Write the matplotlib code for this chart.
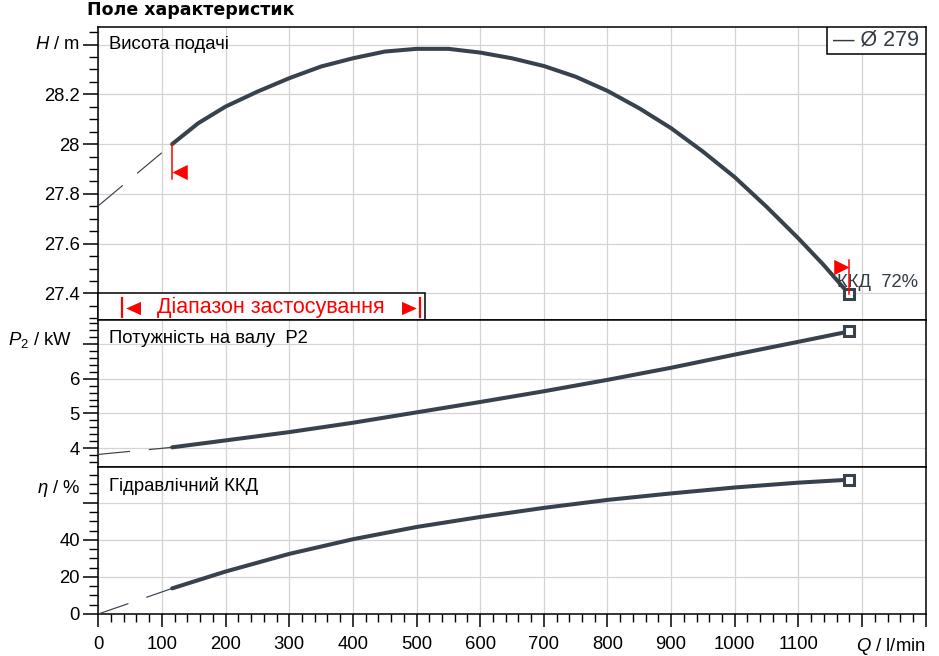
import numpy as np
import matplotlib
matplotlib.use('Agg')
import matplotlib.pyplot as plt
from matplotlib.path import Path
from matplotlib.patches import Rectangle
from matplotlib.ticker import FixedLocator, MultipleLocator
import matplotlib.transforms as mtransforms

# ---------------- data ----------------
q_head = [116, 157, 200, 250, 300, 350, 400, 450, 500, 550, 600, 650, 700, 750, 800,
          850, 900, 950, 1000, 1050, 1100, 1139, 1180]
head = [28.0, 28.084, 28.151, 28.211, 28.265, 28.312, 28.345, 28.372, 28.383, 28.383,
        28.368, 28.345, 28.314, 28.271, 28.214, 28.144, 28.064, 27.970, 27.867, 27.748,
        27.621, 27.516, 27.396]
q_pe = [116, 200, 300, 400, 500, 600, 700, 800, 900, 1000, 1100, 1180]
power = [4.02, 4.22, 4.46, 4.73, 5.03, 5.33, 5.64, 5.97, 6.32, 6.70, 7.07, 7.37]
eff = [13.8, 22.9, 32.4, 40.3, 46.9, 52.3, 57.2, 61.5, 65.0, 68.2, 70.8, 72.4]
head_q0 = 27.752
power_q0 = 3.815
eff_q0 = 0.0
range_q = [38, 505]

x_ticks = [0, 100, 200, 300, 400, 500, 600, 700, 800, 900, 1000, 1100, 1200, 1300]
x_labels = ['0', '100', '200', '300', '400', '500', '600', '700', '800', '900', '1000', '1100', '', '']
h_ticks = [27.4, 27.6, 27.8, 28.0, 28.2, 28.4]
h_labels = ['27.4', '27.6', '27.8', '28', '28.2', '']
p_ticks = [4, 5, 6, 7]
p_labels = ['4', '5', '6', '']
e_ticks = [0, 20, 40, 60]
e_labels = ['0', '20', '40', '']

title = 'Поле характеристик'
panel_titles = ['Висота подачі', 'Потужність на валу  P2', 'Гідравлічний ККД']
band_text = 'Діапазон застосування'
legend_text = '— Ø 279'
eff_text = 'ККД  72%'

# ---------------- style ----------------
plt.rcParams['font.family'] = ['Liberation Sans', 'DejaVu Sans']
plt.rcParams['mathtext.fontset'] = 'custom'
plt.rcParams['mathtext.rm'] = 'Liberation Sans'
plt.rcParams['mathtext.it'] = 'Liberation Sans:italic'
plt.rcParams['mathtext.bf'] = 'Liberation Sans:bold'

CURVE = '#37424d'
GRID = '#d4d4d4'
FS = 13.3

W, H = 939, 656
fig = plt.figure(figsize=(W / 100, H / 100), dpi=100)

def fx(px):
    return px / W

def fy(py):
    return 1 - py / H

left, right = 98.3, 925.7
bounds = [(26.7, 320.0), (320.0, 466.7), (466.7, 614.0)]
axes = []
for top, bot in bounds:
    ax = fig.add_axes([fx(left), fy(bot), fx(right) - fx(left), fy(top) - fy(bot)])
    axes.append(ax)
axH, axP, axE = axes

ylims = [(27.293, 28.472), (3.46, 7.70), (0.0, 79.4)]
yt = [(h_ticks, h_labels, 0.05), (p_ticks, p_labels, 0.2), (e_ticks, e_labels, 5)]

for ax, yl, (ticks, labels, minor) in zip(axes, ylims, yt):
    ax.set_xlim(0, 1300)
    ax.set_ylim(*yl)
    ax.xaxis.set_major_locator(FixedLocator(x_ticks))
    ax.xaxis.set_minor_locator(MultipleLocator(20))
    ax.yaxis.set_major_locator(FixedLocator(ticks))
    ax.set_yticklabels(labels)
    ax.yaxis.set_minor_locator(MultipleLocator(minor))
    ax.grid(True, which='major', color=GRID, lw=0.9, zorder=0)
    ax.set_axisbelow(True)
    for s in ax.spines.values():
        s.set_linewidth(1.1)
        s.set_color('black')
    ax.tick_params(axis='y', which='major', direction='out', length=10.5, width=1.1,
                   pad=2.7, labelsize=FS, left=True, right=False)
    ax.tick_params(axis='y', which='minor', direction='out', length=6.5, width=1.0,
                   left=True, right=False)
    if ax is axE:
        ax.set_xticklabels(x_labels)
        ax.tick_params(axis='x', which='major', direction='out', length=9, width=1.1,
                       pad=6.6, labelsize=FS, top=False)
        ax.tick_params(axis='x', which='minor', direction='out', length=5.5, width=1.0, top=False)
    else:
        ax.tick_params(axis='x', which='both', bottom=False, top=False, labelbottom=False)

# ---------------- curves ----------------
dash = (0, (27, 16))
for ax, qq, yy, y0 in [(axH, q_head, head, head_q0), (axP, q_pe, power, power_q0),
                       (axE, q_pe, eff, eff_q0)]:
    ax.plot([0, qq[0]], [y0, yy[0]], color=CURVE, lw=0.85, linestyle=dash, zorder=3)
    ax.plot(qq, yy, color=CURVE, lw=2.9, solid_capstyle='round', solid_joinstyle='round',
            zorder=4)
    ax.plot([qq[-1]], [yy[-1]], marker='s', ms=7.5, mfc='white', mec=CURVE, mew=2.2,
            zorder=6, clip_on=False)

# ---------------- red markers ----------------
tri_left = Path([(0, 0), (1, -0.5), (1, 0.5), (0, 0)],
                [Path.MOVETO, Path.LINETO, Path.LINETO, Path.CLOSEPOLY])
tri_right = Path([(0, 0), (-1, -0.5), (-1, 0.5), (0, 0)],
                 [Path.MOVETO, Path.LINETO, Path.LINETO, Path.CLOSEPOLY])
axH.plot([q_head[0], q_head[0]], [head[0], head[0] - 0.14], color='red', lw=1.1, zorder=5)
axH.plot([q_head[0]], [head[0] - 0.113], marker=tri_left, ms=22, color='red', mec='none', zorder=5)
axH.plot([q_head[-1], q_head[-1]], [head[-1], head[-1] + 0.14], color='red', lw=1.1, zorder=7)
axH.plot([q_head[-1]], [head[-1] + 0.11], marker=tri_right, ms=22, color='red', mec='none', zorder=7)

axH.text(q_head[-1] - 20, 27.442, eff_text, fontsize=FS, color='#333b44', va='center',
         ha='left', zorder=6)

# ---------------- application range band ----------------
ybot = axH.get_ylim()[0]
axH.add_patch(Rectangle((0, ybot), range_q[1] + 8, 27.4 - ybot, facecolor='white',
                        edgecolor='black', lw=1.1, zorder=8, clip_on=False))
for qv in range_q:
    axH.plot([qv, qv], [27.306, 27.381], color='red', lw=1.6, zorder=9)
axH.text(sum(range_q) / 2, 27.343, band_text, color='red', fontsize=15.5, ha='center',
         va='center', zorder=9)
band_left = Path([(0.25, 0), (1.25, -0.45), (1.25, 0.45), (0.25, 0)],
                 [Path.MOVETO, Path.LINETO, Path.LINETO, Path.CLOSEPOLY])
band_right = Path([(-0.25, 0), (-1.25, -0.45), (-1.25, 0.45), (-0.25, 0)],
                  [Path.MOVETO, Path.LINETO, Path.LINETO, Path.CLOSEPOLY])
axH.plot([range_q[0]], [27.343], marker=band_left, ms=26.6, color='red', mec='none', zorder=9)
axH.plot([range_q[1]], [27.343], marker=band_right, ms=26.6, color='red', mec='none', zorder=9)

# ---------------- legend ----------------
axH.add_patch(Rectangle((0.881, 0.906), 0.119, 0.094, transform=axH.transAxes,
                        facecolor='white', edgecolor='black', lw=1.1, zorder=10))
axH.text(0.9405, 0.953, legend_text, transform=axH.transAxes, fontsize=15.5,
         color='#333b44', ha='center', va='center', zorder=11)

# ---------------- panel titles ----------------
for ax, t in zip(axes, panel_titles):
    ax.text(0.0133, 0.967 if ax is axH else 0.93, t, transform=ax.transAxes,
            fontsize=FS, va='top', ha='left', zorder=9)

# ---------------- axis labels ----------------
ylab = [(axH, 28.4, r'$H$ / m', -13.2), (axP, 7.11, r'$P_2$ / kW', -19.0),
        (axE, 67.8, r'$\eta$ / %', -13.2)]
for ax, yv, lab, off in ylab:
    tr = mtransforms.blended_transform_factory(ax.transAxes, ax.transData)
    ax.annotate(lab, xy=(0, yv), xycoords=tr, xytext=(off, 0), textcoords='offset points',
                ha='right', va='center', fontsize=FS, annotation_clip=False)
axE.annotate(r'$Q$ / l/min', xy=(1, 0), xycoords='axes fraction', xytext=(0, -15.6),
             textcoords='offset points', ha='right', va='top', fontsize=FS,
             annotation_clip=False)

fig.text(fx(87), fy(10), title, fontsize=12.5, fontweight='bold',
         family=['DejaVu Sans'], va='center', ha='left')

fig.savefig('out.png', dpi=100, facecolor='white')
